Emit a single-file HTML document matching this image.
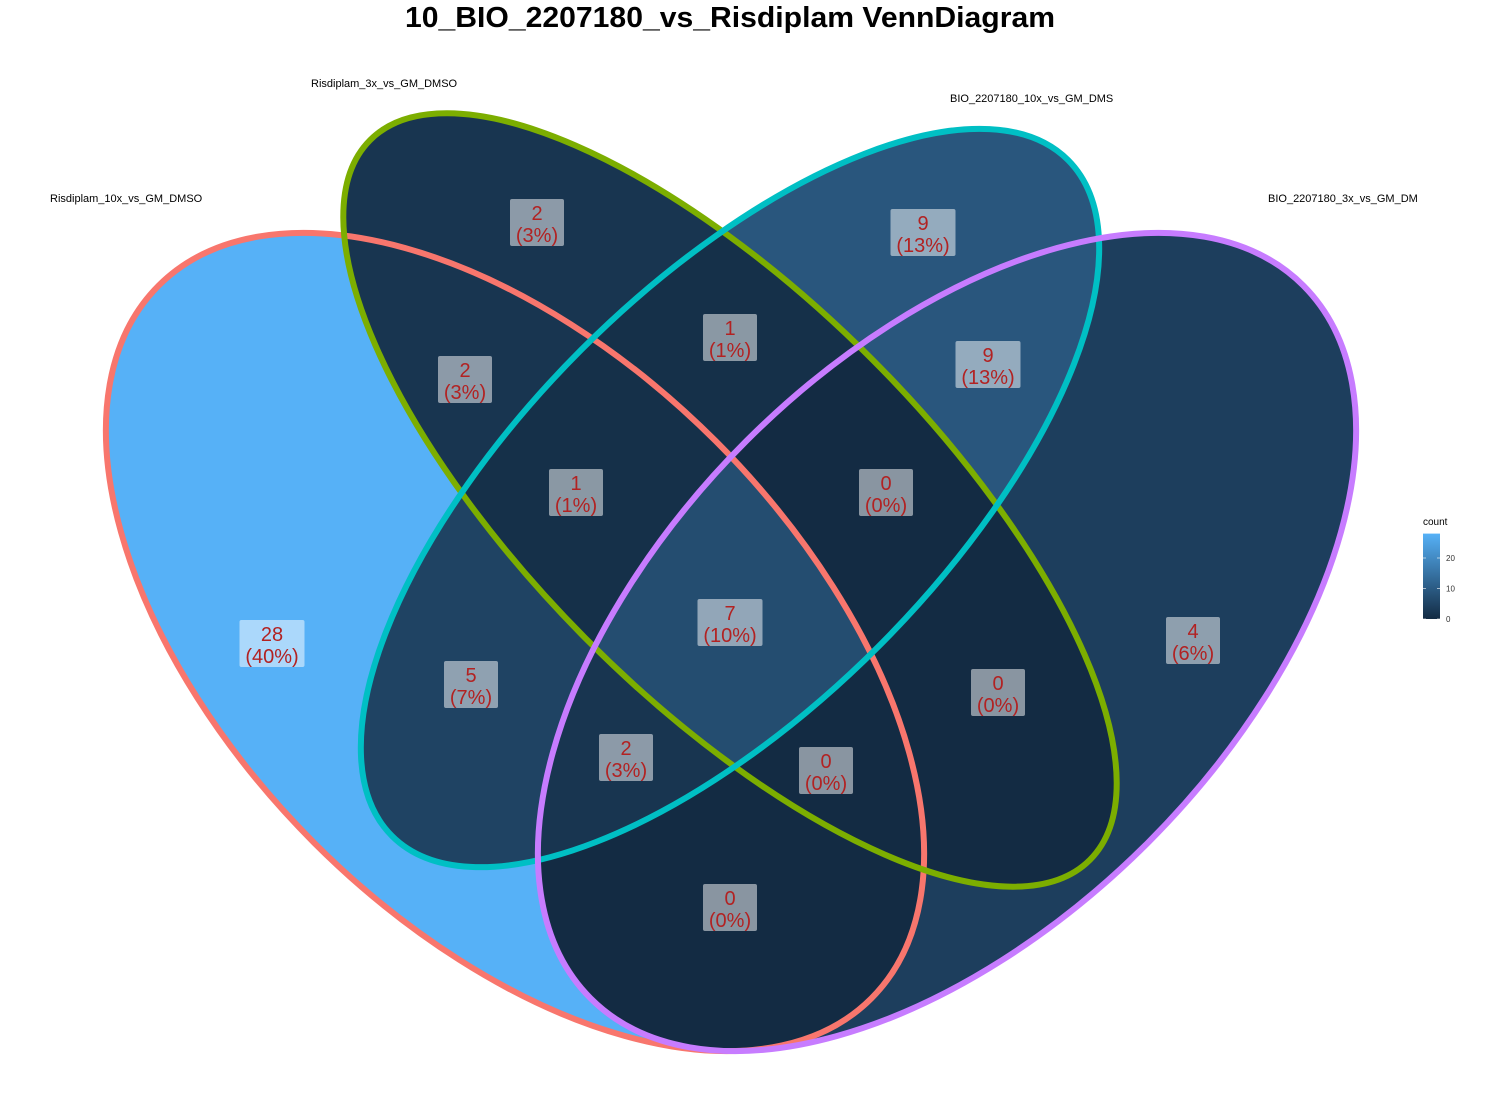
<!DOCTYPE html>
<html><head><meta charset="utf-8"><style>
html,body{margin:0;padding:0;background:#fff;overflow:hidden;width:1500px;height:1100px;}
svg{display:block;font-family:"Liberation Sans",sans-serif;}
</style></head><body>
<svg id="chart" width="1500" height="1100" xmlns="http://www.w3.org/2000/svg" overflow="hidden">
<text x="730" y="27" text-anchor="middle" font-size="29" font-weight="bold" fill="#000" textLength="650" lengthAdjust="spacingAndGlyphs">10_BIO_2207180_vs_Risdiplam VennDiagram</text>
<defs id="defs"></defs>
<g id="regions"></g>
<g id="outlines"></g>
<g id="labels"></g>
<g id="setnames" font-size="11" fill="#000">
<text x="50" y="202">Risdiplam_10x_vs_GM_DMSO</text>
<text x="311" y="87">Risdiplam_3x_vs_GM_DMSO</text>
<text x="950" y="102">BIO_2207180_10x_vs_GM_DMS</text>
<text x="1268" y="202">BIO_2207180_3x_vs_GM_DM</text>
</g>
<g id="legend"></g>
</svg>
<script>
// sets: A=Risdiplam_10x (red), B=Risdiplam_3x (green), C=BIO_10x (cyan), D=BIO_3x (purple)
const regionSets = ["A","B","C","D","AB","BC","CD","AC","BD","AD","ABC","BCD","ACD","ABD","ABCD"];
const regionCounts = [28,2,9,4,2,1,9,5,0,0,1,0,2,0,7];
const legendTicks = [0,10,20];
const legendMax = 28;

const labelPos = {A:[272,644],B:[537,223],C:[923,233],D:[1193,641],AB:[465,380],BC:[730,338],CD:[988,365],AC:[471,685],BD:[998,693],AD:[730,908],ABC:[576,493],BCD:[886,493],ACD:[626,758],ABD:[826,771],ABCD:[730,623]};
const ellipses = {
  A:{cx:515,cy:642,rx:504,ry:284,rot:45,col:"#F8766D"},
  B:{cx:730,cy:500,rx:509,ry:200,rot:45,col:"#7CAE00"},
  C:{cx:730,cy:498,rx:478,ry:210,rot:-45,col:"#00BFC4"},
  D:{cx:947,cy:642,rx:504,ry:284,rot:-45,col:"#C77CFF"}
};
const NS="http://www.w3.org/2000/svg";
const svg=document.getElementById('chart');
const defs=document.getElementById('defs');
function mk(tag,attrs){const e=document.createElementNS(NS,tag);for(const k in attrs)e.setAttribute(k,attrs[k]);return e;}
function ell(k,extra){const e=ellipses[k];return mk('ellipse',Object.assign({cx:e.cx,cy:e.cy,rx:e.rx,ry:e.ry,transform:`rotate(${e.rot} ${e.cx} ${e.cy})`},extra||{}));}
const c0=[0x13,0x2B,0x43],c1=[0x56,0xB1,0xF7];
function colorScale(v){const t=Math.max(0,Math.min(1,v/legendMax));return `rgb(${c0.map((c,i)=>Math.round(c+(c1[i]-c)*t)).join(',')})`;}
["A","B","C","D"].forEach(k=>{const cp=mk('clipPath',{id:'clip'+k});cp.appendChild(ell(k));defs.appendChild(cp);});
const regionsG=document.getElementById('regions');
const total=regionCounts.reduce((a,b)=>a+b,0);
regionSets.forEach((rs,i)=>{
  const inc=rs.split(''),exc=["A","B","C","D"].filter(k=>!inc.includes(k));
  const m=mk('mask',{id:'mask'+rs});
  m.appendChild(mk('rect',{x:0,y:0,width:1500,height:1100,fill:'#fff'}));
  exc.forEach(k=>m.appendChild(ell(k,{fill:'#000'})));
  defs.appendChild(m);
  let outer=mk('g',{mask:`url(#mask${rs})`});
  let cur=outer;
  inc.forEach(k=>{const g=mk('g',{'clip-path':`url(#clip${k})`});cur.appendChild(g);cur=g;});
  const r=mk('rect',{x:0,y:0,width:1500,height:1100,fill:colorScale(regionCounts[i])});
  
  
  cur.appendChild(r);
  regionsG.appendChild(outer);
});
const outl=document.getElementById('outlines');
["A","B","C","D"].forEach(k=>{
  const e=ell(k,{fill:'none',stroke:ellipses[k].col,'stroke-width':6});
  
  
  outl.appendChild(e);
});
const lab=document.getElementById('labels');
regionSets.forEach((rs,i)=>{
  const [x,y]=labelPos[rs];
  const pct=Math.round(regionCounts[i]/total*100);
  const g=mk('g',{});
  
  
  const t2=`(${pct}%)`;
  const w=Math.max(String(regionCounts[i]).length*11,t2.length*11)+10;
  g.appendChild(mk('rect',{x:x-w/2,y:y-24,width:w,height:47,rx:2,fill:'#fff','fill-opacity':0.5}));
  const t=mk('text',{x:x,y:y-3,'text-anchor':'middle','font-size':20,fill:'#B22222'});t.textContent=regionCounts[i];
  const tb=mk('text',{x:x,y:y+19,'text-anchor':'middle','font-size':20,fill:'#B22222'});tb.textContent=t2;
  g.appendChild(t);g.appendChild(tb);lab.appendChild(g);
});
const lg=document.getElementById('legend');
const lx=1423,lw=17,ly0=619,pxu=3.05;
const grad=mk('linearGradient',{id:'lgrad',x1:0,y1:1,x2:0,y2:0});
grad.appendChild(mk('stop',{offset:0,'stop-color':colorScale(0)}));
grad.appendChild(mk('stop',{offset:1,'stop-color':colorScale(legendMax)}));
defs.appendChild(grad);
const bar=mk('rect',{x:lx,y:ly0-legendMax*pxu,width:lw,height:legendMax*pxu,fill:'url(#lgrad)'});


lg.appendChild(bar);
const lt=mk('text',{x:lx,y:525,'font-size':10,fill:'#000'});lt.textContent='count';


lg.appendChild(lt);
legendTicks.forEach(v=>{
  const y=ly0-v*pxu;
  lg.appendChild(mk('line',{x1:lx,x2:lx+3,y1:y,y2:y,stroke:'#fff','stroke-opacity':0.6}));
  lg.appendChild(mk('line',{x1:lx+lw-3,x2:lx+lw,y1:y,y2:y,stroke:'#fff','stroke-opacity':0.6}));
  const t=mk('text',{x:lx+lw+6,y:y+3,'font-size':8,fill:'#333'});t.textContent=v;
  
  
  lg.appendChild(t);
});
</script>
</body></html>
